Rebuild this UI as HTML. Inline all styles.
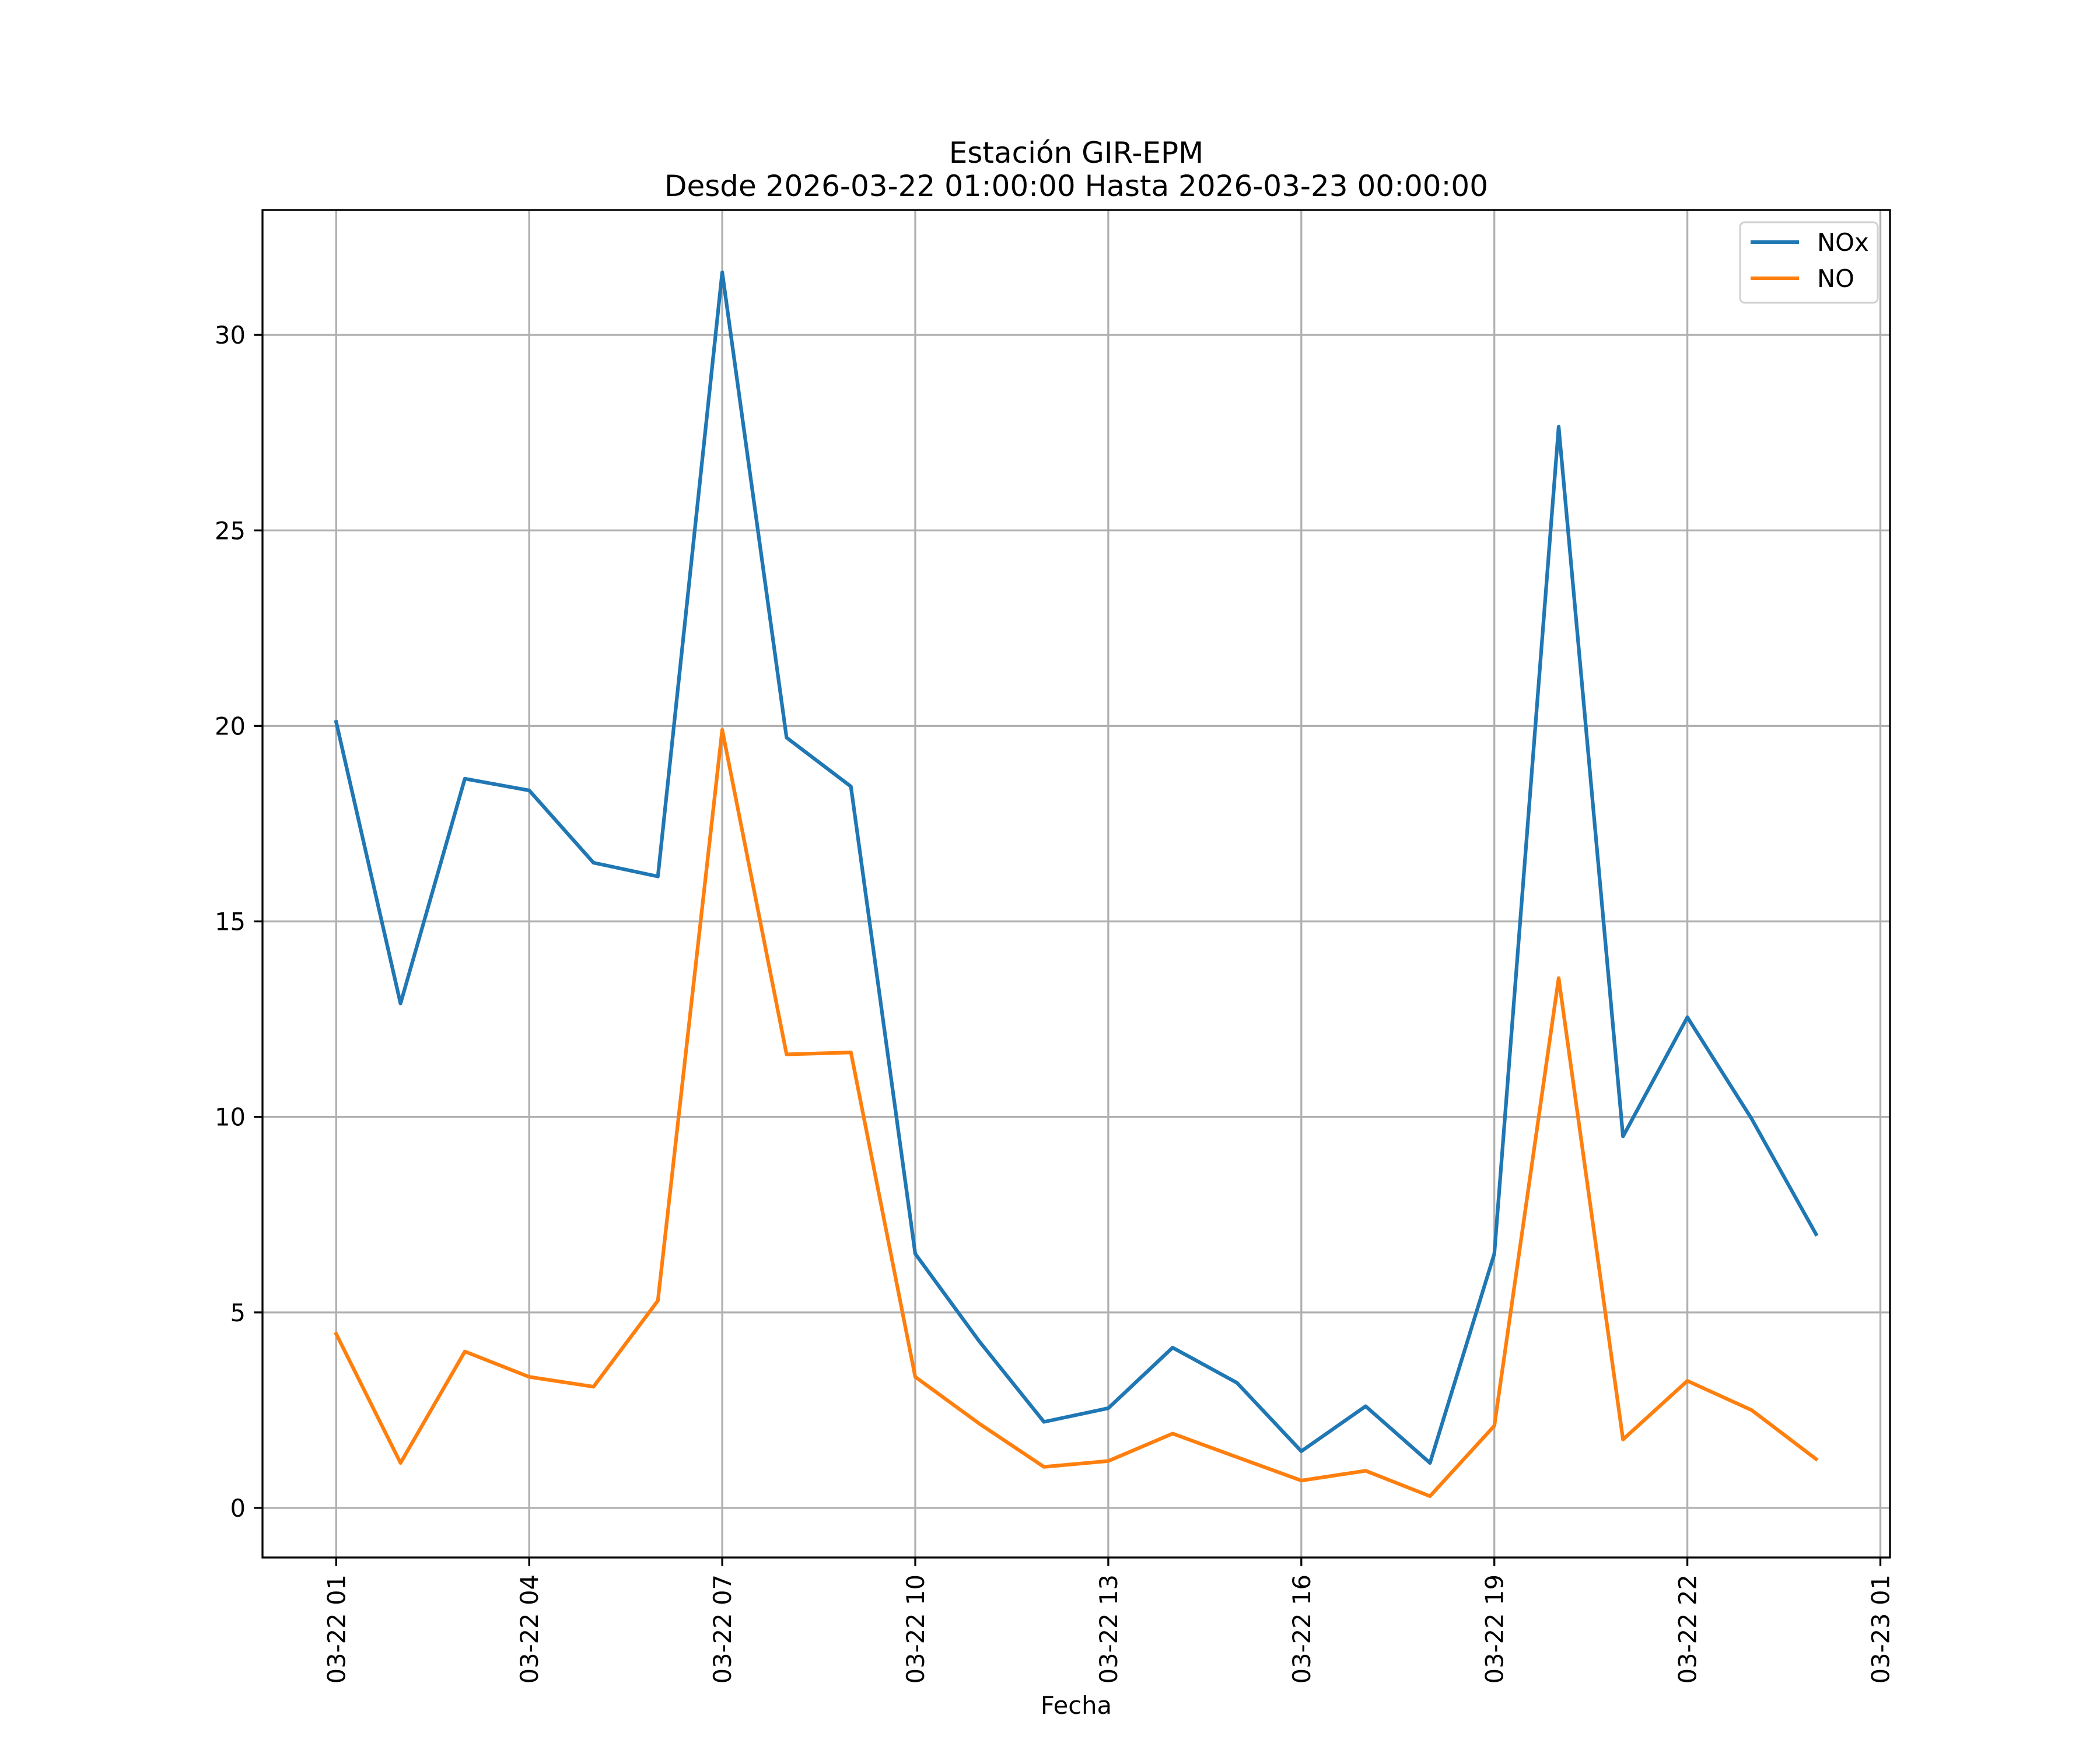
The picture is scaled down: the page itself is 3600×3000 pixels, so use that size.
<!DOCTYPE html>
<html><head><meta charset="utf-8"><style>body{margin:0;background:#fff}svg{display:block}</style></head>
<body>
<svg id="chart" width="3600" height="3000" viewBox="0 0 3600 3000" xmlns="http://www.w3.org/2000/svg" font-family="DejaVu Sans, Liberation Sans, sans-serif">
<rect width="3600" height="3000" fill="#fff"/>
<text x="1845" y="279" font-size="50" text-anchor="middle">Estación GIR-EPM</text>
<text x="1845" y="336" font-size="50" text-anchor="middle">Desde 2026-03-22 01:00:00 Hasta 2026-03-23 00:00:00</text>
<g id="grid"></g>
<g id="series"></g>
<g id="axes"></g>
<text x="1845" y="2938" font-size="41.7" text-anchor="middle">Fecha</text>
<g>
<rect x="2983" y="381" width="236" height="138" rx="8" fill="#fff" stroke="#ccc" stroke-width="3" opacity="0.9"/>
<line x1="3001" y1="415" x2="3084" y2="415" stroke="#1f77b4" stroke-width="6"/>
<text x="3115" y="430" font-size="41.7">NOx</text>
<line x1="3001" y1="477" x2="3084" y2="477" stroke="#ff7f0e" stroke-width="6"/>
<text x="3115" y="492" font-size="41.7">NO</text>
</g>
</svg>
<script>
const hours = [0,1,2,3,4,5,6,7,8,9,10,11,12,13,14,15,16,17,18,19,20,21,22,23];
const noxValues = [20.1,12.9,18.65,18.35,16.5,16.15,31.6,19.7,18.45,6.5,4.25,2.2,2.55,4.1,3.2,1.45,2.6,1.15,6.5,27.65,9.5,12.55,9.95,7.0];
const noValues = [4.45,1.15,4.0,3.35,3.1,5.3,19.9,11.6,11.65,3.35,2.15,1.05,1.2,1.9,1.3,0.7,0.95,0.3,2.1,13.55,1.75,3.25,2.5,1.25];
const yTicks = [0,5,10,15,20,25,30];
const xTickHours = [0,3,6,9,12,15,18,21,24];
const xTickLabels = ["03-22 01","03-22 04","03-22 07","03-22 10","03-22 13","03-22 16","03-22 19","03-22 22","03-23 01"];

const L=450,R=3240,T=360,B=2670;
const xs = h => 576.3 + h*110.3;
const ys = v => 2585 - v*67.03;
const NS="http://www.w3.org/2000/svg";
function mk(tag, attrs, parent){const e=document.createElementNS(NS,tag);for(const k in attrs)e.setAttribute(k,attrs[k]);parent.appendChild(e);return e;}
const grid=document.getElementById('grid'), axes=document.getElementById('axes'), series=document.getElementById('series');

yTicks.forEach(v=>{
  const y=ys(v);
  const g=mk('line',{x1:L,x2:R,y1:y,y2:y,stroke:'#b0b0b0','stroke-width':3.3},grid);
  
  
  const t=mk('line',{x1:L-14.6,x2:L,y1:y,y2:y,stroke:'#000','stroke-width':3.3},axes);
  
  
  const lb=mk('text',{x:L-29,y:y+15,'font-size':41.7,'text-anchor':'end'},axes);
  lb.textContent=v;
  
  
});
xTickHours.forEach((h,i)=>{
  const x=xs(h);
  const g=mk('line',{x1:x,x2:x,y1:T,y2:B,stroke:'#b0b0b0','stroke-width':3.3},grid);
  
  
  const t=mk('line',{x1:x,x2:x,y1:B,y2:B+14.6,stroke:'#000','stroke-width':3.3},axes);
  
  
  const lb=mk('text',{x:0,y:0,'font-size':41.7,'text-anchor':'end',transform:`translate(${x+15},${B+29}) rotate(-90)`},axes);
  lb.textContent=xTickLabels[i];
  
  
});
const frame=mk('rect',{x:L,y:T,width:R-L,height:B-T,fill:'none',stroke:'#000','stroke-width':3.3},axes);



function line(vals,color,name){
  const d=vals.map((v,i)=>(i?'L':'M')+xs(hours[i]).toFixed(1)+','+ys(v).toFixed(1)).join(' ');
  const p=mk('path',{d:d,fill:'none',stroke:color,'stroke-width':6.25,'stroke-linejoin':'round','stroke-linecap':'square'},series);
  
  
}
line(noxValues,'#1f77b4','nox-line');
line(noValues,'#ff7f0e','no-line');
</script>
</body></html>
